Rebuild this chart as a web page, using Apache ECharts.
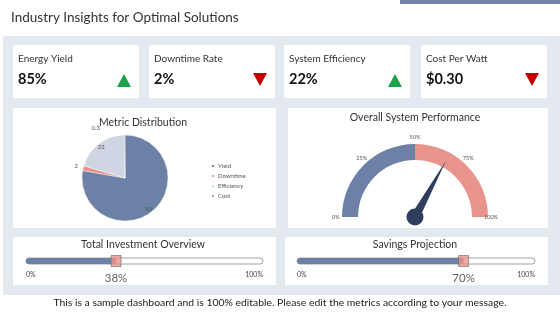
<!DOCTYPE html>
<html>
<head>
<meta charset="utf-8">
<script src="https://cdn.jsdelivr.net/npm/echarts@6/dist/echarts.min.js"></script>
<style>
  html, body { margin: 0; padding: 0; background: #fff; }
  #main { width: 560px; height: 315px; }
</style>
</head>
<body>
<div id="main"></div>
<script>
// KPI cards
var kpiNames = ['Energy Yield', 'Downtime Rate', 'System Efficiency', 'Cost Per Watt'];
var kpiValues = ['85%', '2%', '22%', '$0.30'];
var kpiTrend = ['up', 'down', 'up', 'down'];

// pie
var pieCategories = ['Yield', 'Downtime', 'Efficiency', 'Cost'];
var pieValues = [85, 2, 22, 0.3];

// gauge
var gaugeValue = 66;
var gaugeTicks = ['0%', '25%', '50%', '75%', '100%'];

// sliders
var sliderNames = ['Total Investment Overview', 'Savings Projection'];
var sliderValues = [38, 70];

var FONT = 'Lato, "DejaVu Sans", sans-serif';
var BLUE = '#6d81a7';
var SALMON = '#e8948c';
var LIGHT = '#cfd5e2';
var NAVY = '#2f3e5e';

var chart = echarts.init(document.getElementById('main'), null, { renderer: 'canvas' });

//graphic: backgrounds, cards, texts
var graphics = [];
graphics.push({ type: 'rect', shape: { x: 400, y: 0, width: 160, height: 4 }, style: { fill: '#7484a8' } });
graphics.push({ type: 'text', x: 11, y: 18, style: { text: 'Industry Insights for Optimal Solutions', font: '13.5px ' + FONT, fill: '#333', textVerticalAlign: 'middle' } });
graphics.push({ type: 'rect', shape: { x: 3, y: 36, width: 557, height: 259 }, style: { fill: '#e4e8ef' } });

var kpiX = [13, 149, 284, 421];
for (var i = 0; i < kpiNames.length; i++) {
  var x = kpiX[i];
  graphics.push({ type: 'rect', shape: { x: x, y: 45, width: 126, height: 53 }, style: { fill: '#fff' } });
  graphics.push({ type: 'text', x: x + 5, y: 59, style: { text: kpiNames[i], font: '10px ' + FONT, fill: '#333', textVerticalAlign: 'middle' } });
  graphics.push({ type: 'text', x: x + 5, y: 79, style: { text: kpiValues[i], font: 'bold 14.5px ' + FONT, fill: '#111', textVerticalAlign: 'middle' } });
  var tx = x + 111;
  var pts = kpiTrend[i] == 'up'
    ? [[tx - 7, 87], [tx + 7, 87], [tx, 74]]
    : [[tx - 7, 73], [tx + 7, 73], [tx, 86]];
  graphics.push({ type: 'polygon', shape: { points: pts }, style: { fill: kpiTrend[i] == 'up' ? '#1aa34a' : '#c00000' } });
}

// middle + bottom cards
graphics.push({ type: 'rect', shape: { x: 13, y: 108, width: 263, height: 120 }, style: { fill: '#fff' } });
graphics.push({ type: 'rect', shape: { x: 288, y: 108, width: 260, height: 120 }, style: { fill: '#fff' } });
graphics.push({ type: 'rect', shape: { x: 13, y: 237, width: 263, height: 48 }, style: { fill: '#fff' } });
graphics.push({ type: 'rect', shape: { x: 285, y: 237, width: 263, height: 48 }, style: { fill: '#fff' } });

function centerText(txt, cx, cy, size) {
  return { type: 'text', x: cx, y: cy, style: { text: txt, font: size + 'px ' + FONT, fill: '#333', textAlign: 'center', textVerticalAlign: 'middle' } };
}
graphics.push(centerText('Metric Distribution', 143, 123, 10.5));
graphics.push(centerText('Overall System Performance', 415, 118, 10.5));
graphics.push(centerText(sliderNames[0], 143, 245, 10.5));
graphics.push(centerText(sliderNames[1], 415, 245, 10.5));
graphics.push({ type: 'text', x: 280, y: 303, style: { text: 'This is a sample dashboard and is 100% editable. Please edit the metrics according to your message.', font: '10.4px ' + FONT, fill: '#222', textAlign: 'center', textVerticalAlign: 'middle' } });

// pie label placement (like excel best fit)
var pieColors = [BLUE, SALMON, LIGHT, '#9aa6c0'];
var pieLabelOffsets = [[8, 12], [-25, -6], [-9, -11], [-29, -25]];
var pieData = [];
for (var i = 0; i < pieCategories.length; i++) {
  pieData.push({
    name: pieCategories[i],
    value: pieValues[i],
    itemStyle: { color: pieColors[i] },
    label: { offset: pieLabelOffsets[i] }
  });
}

// slider grids
var sliderGrids = [
  { left: 26, width: 237, top: 258, height: 6 },
  { left: 297, width: 238, top: 258, height: 6 }
];
var xAxes = [], yAxes = [], sliderSeries = [];
for (var i = 0; i < sliderValues.length; i++) {
  xAxes.push({
    type: 'value', gridIndex: i, min: 0, max: 100, interval: 100,
    axisLine: { show: false }, axisTick: { show: false }, splitLine: { show: false },
    axisLabel: { formatter: '{value}%', fontSize: 7, color: '#444', fontFamily: FONT, margin: 7,
      alignMinLabel: 'left', alignMaxLabel: 'right' }
  });
  yAxes.push({ type: 'category', gridIndex: i, data: ['v'], show: false });
  sliderSeries.push({
    type: 'bar', xAxisIndex: i, yAxisIndex: i, data: [sliderValues[i]], barWidth: 6,
    showBackground: true,
    backgroundStyle: { color: '#fff', borderColor: '#8a8a8a', borderWidth: 0.8, borderRadius: 3 },
    itemStyle: { color: BLUE, borderRadius: [3, 0, 0, 3] },
    silent: true
  });
  sliderSeries.push({
    type: 'scatter', xAxisIndex: i, yAxisIndex: i, data: [[sliderValues[i], 'v']],
    symbol: 'rect', symbolSize: [10, 11], z: 5,
    itemStyle: { color: SALMON, borderColor: '#6a6a6a', borderWidth: 0.8 },
    label: { show: true, position: 'bottom', distance: 5, fontSize: 11.5, color: '#333', fontFamily: FONT,
      formatter: function (p) { return p.value[0] + '%'; } }
  });
}

var NB = '\u00a0';
var option = {
  animation: false,
  graphic: graphics,
  legend: {
    orient: 'vertical', left: 205, top: 158, itemWidth: 4, itemHeight: 4, itemGap: 4, icon: 'rect',
    data: pieCategories,
    textStyle: { fontSize: 6, color: '#555', fontFamily: FONT, padding: [0, 0, 0, -2] }
  },
  grid: sliderGrids,
  xAxis: xAxes,
  yAxis: yAxes,
  series: [
    {
      type: 'pie', center: [125, 178], radius: 43, startAngle: 90, clockwise: true,
      data: pieData,
      itemStyle: { borderColor: '#fff', borderWidth: 0.4 },
      label: { position: 'inside', fontSize: 6, color: '#555', fontFamily: FONT, formatter: '{c}' },
      labelLine: { show: false }
    },
    {
      type: 'gauge', center: [415, 217], radius: 73, startAngle: 180, endAngle: 0,
      min: 0, max: 100, splitNumber: 4,
      axisLine: { lineStyle: { width: 16, color: [[0.5, BLUE], [1, SALMON]] } },
      axisTick: { show: false },
      splitLine: { show: false },
      axisLabel: { distance: -30, fontSize: 5.5, color: '#555', fontFamily: FONT,
        formatter: function (v) {
          var t = gaugeTicks[Math.round(v / 25)];
          if (v === 0) return t + NB.repeat(8);
          if (v === 100) return NB.repeat(3) + t;
          return t;
        }
      },
      pointer: { icon: 'path://M5,0 L10,100 L0,100 Z', length: '88%', width: 9, itemStyle: { color: NAVY } },
      anchor: { show: true, size: 17, showAbove: true, itemStyle: { color: NAVY } },
      title: { show: false },
      detail: { show: false },
      data: [{ value: gaugeValue }]
    }
  ].concat(sliderSeries)
};
chart.setOption(option);
</script>
</body>
</html>
